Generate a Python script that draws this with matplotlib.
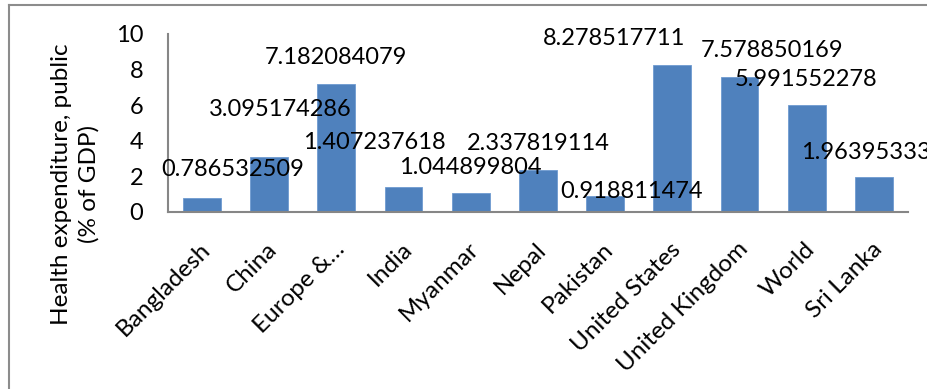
import matplotlib
matplotlib.use("Agg")
import matplotlib.pyplot as plt
import matplotlib.transforms as mtransforms
from matplotlib.lines import Line2D

plt.rcParams["font.family"] = ["Lato", "DejaVu Sans"]

# Data
countries = ["Bangladesh", "China", "Europe &…", "India", "Myanmar", "Nepal",
             "Pakistan", "United States", "United Kingdom", "World", "Sri Lanka"]
values = [0.786532509, 3.095174286, 7.182084079, 1.407237618, 1.044899804,
          2.337819114, 0.918811474, 8.278517711, 7.578850169, 5.991552278,
          1.96395333]
value_labels = ["0.786532509", "3.095174286", "7.182084079", "1.407237618",
                "1.044899804", "2.337819114", "0.918811474", "8.278517711",
                "7.578850169", "5.991552278", "1.96395333"]
y_ticks = [0, 2, 4, 6, 8, 10]
y_title = "Health expenditure, public\n(% of GDP)"

# Label placement (pixel offsets of each label centre from its bar top)
label_dx = [31, 11, 0, -29, 0, 0, 26, -58, 33, -1, -8]
label_dy = [28, 47, 27, 44, 26, 27, 4, 26, 27, 26, 25]

W, H = 928, 389
fig = plt.figure(figsize=(W / 100, H / 100), dpi=100)
fig.patch.set_facecolor("white")

# Outer chart frame (top and left edges visible)
frame_color = "#8c8c8c"
fx, fy = 9.5 / W, 1 - 4.5 / H
fig.add_artist(Line2D([fx, fx], [0, fy], transform=fig.transFigure,
                      color=frame_color, lw=1.5))
fig.add_artist(Line2D([fx, 1], [fy, fy], transform=fig.transFigure,
                      color=frame_color, lw=1.5))

ax_left, ax_right, ax_top, ax_bottom = 168.3, 907.5, 34, 212
ax = fig.add_axes([ax_left / W, 1 - ax_bottom / H,
                   (ax_right - ax_left) / W, (ax_bottom - ax_top) / H])

x = list(range(len(countries)))
ax.bar(x, values, width=0.565, color="#4F81BD", edgecolor="#6e9bd0",
       linewidth=0.6, zorder=2)

ax.set_xlim(-0.5, len(countries) - 0.5)
ax.set_ylim(0, 10)
ax.set_yticks(y_ticks)
ax.set_yticklabels([str(t) for t in y_ticks], fontsize=17)
ax.tick_params(axis="y", length=0, pad=18)
ax.set_xticks(x)
ax.set_xticklabels(countries, fontsize=17.5, rotation=45, ha="right",
                   va="center", rotation_mode="anchor")
ax.tick_params(axis="x", length=0, pad=0)
shift = mtransforms.ScaledTranslation(5 / 100, -34 / 100, fig.dpi_scale_trans)
for lbl in ax.get_xticklabels():
    lbl.set_transform(lbl.get_transform() + shift)

for side in ["top", "right"]:
    ax.spines[side].set_visible(False)
for side in ["left", "bottom"]:
    ax.spines[side].set_color("#868686")
    ax.spines[side].set_linewidth(1.5)

for i, (v, txt) in enumerate(zip(values, value_labels)):
    ax.annotate(txt, xy=(i, v), xytext=(label_dx[i], label_dy[i]),
                textcoords="offset pixels", ha="center", va="center",
                fontsize=17, color="black", zorder=3, annotation_clip=False)

fig.text(75 / W, 1 - 184 / H, y_title, rotation=90, ha="center", va="center",
         multialignment="center", fontsize=17.5, linespacing=1.35)

fig.savefig("out.png", dpi=100, facecolor="white")
